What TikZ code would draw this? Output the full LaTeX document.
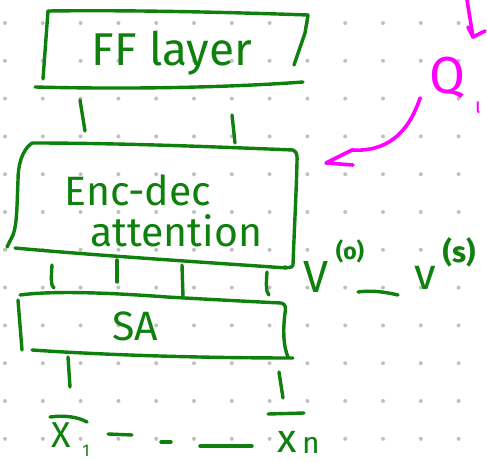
\documentclass[tikz,border=0pt]{standalone}
\usepackage{fontspec}
\setmainfont{Fira Sans}
\definecolor{pen}{RGB}{14,128,14}
\definecolor{mag}{RGB}{255,0,255}
\definecolor{dotc}{RGB}{192,192,192}
\tikzset{
  stroke/.style={draw=pen, line width=3.4pt, line cap=round, line join=round},
  mstroke/.style={draw=mag, line width=3.6pt, line cap=round, line join=round},
  lbl/.style={text=pen, inner sep=0pt, anchor=base},
  mlbl/.style={text=mag, inner sep=0pt, anchor=base},
  sz/.style={font=\fontsize{#1}{#1}\selectfont},
  szb/.style={font=\fontsize{#1}{#1}\selectfont\bfseries},
}
\begin{document}
\begin{tikzpicture}[x=1pt,y=-1pt]
\useasboundingbox (0,0) rectangle (487,462);
\fill[white] (0,0) rectangle (487,462);
% dot grid
\foreach \i in {0,...,12}
  \foreach \j in {0,...,11}
    \fill[dotc] (5+37.8*\i, 23+37.8*\j) circle[radius=2pt];

% ---------- FF layer box ----------
\node[lbl, sz=46] (ff) at (172,66) {FF layer};
\draw[stroke] (48,11) .. controls (130,10) and (220,12) .. (308,15);
\draw[stroke] (48,11) -- (43,79);
\draw[stroke] (308,15) -- (305,33) -- (294,65);
\draw[stroke] (35,87) .. controls (150,90) and (250,86) .. (303,82);

% ---------- Enc-dec attention box ----------
\node[lbl, sz=41] (enc) at (138,206) {Enc-dec};
\node[lbl, sz=41] (att) at (176,247) {attention};
\draw[stroke] (32,143) .. controls (120,143) and (220,147) .. (293,150)
  .. controls (298,152) and (297,158) .. (297,162)
  .. controls (296,200) and (294,235) .. (293,265)
  .. controls (292,268) and (288,268) .. (284,267);
\draw[stroke] (32,143) .. controls (22,150) and (18,165) .. (18,180)
  .. controls (17,205) and (17,225) .. (13,235) -- (7,247);
\draw[stroke] (15,248) .. controls (90,255) and (200,262) .. (287,268);

% ---------- SA box ----------
\node[lbl, sz=41] (sa) at (135,340) {SA};
\draw[stroke] (20,295) .. controls (50,291) and (100,292) .. (167,297)
  .. controls (220,300) and (260,302) .. (281,303)
  .. controls (286,304) and (286,308) .. (285,313)
  .. controls (283,330) and (283,345) .. (288,357);
\draw[stroke] (18,300) -- (22,350);
\draw[stroke] (32,350) .. controls (120,356) and (220,358) .. (293,358);

% ---------- connectors (ticks) ----------
\coordinate (t1a) at (80,100);  \coordinate (t1b) at (85,131);
\coordinate (t2a) at (232,115); \coordinate (t2b) at (235,143);
\draw[stroke] (t1a) -- (t1b);
\draw[stroke] (t2a) -- (t2b);

\coordinate (u1a) at (52,265);  \coordinate (u1b) at (54,288);
\coordinate (u2a) at (117,260); \coordinate (u2b) at (117,282);
\coordinate (u3a) at (182,265); \coordinate (u3b) at (183,297);
\coordinate (u4a) at (267,272); \coordinate (u4b) at (269,295);
\draw[stroke] (u1a) .. controls (51,280) and (51,286) .. (u1b);
\draw[stroke] (u2a) -- (u2b);
\draw[stroke] (u3a) -- (u3b);
\draw[stroke] (u4a) .. controls (266,285) and (266,292) .. (u4b);

\coordinate (w1a) at (68,357);  \coordinate (w1b) at (70,387);
\coordinate (w2a) at (279,372); \coordinate (w2b) at (283,398);
\draw[stroke] (w1a) -- (w1b);
\draw[stroke] (w2a) -- (w2b);

% ---------- inputs ----------
\node[lbl, sz=36] (x1) at (61,447) {X};
\node[lbl, sz=17] (x1s) at (86,456) {1};
\draw[stroke] (50,417) .. controls (65,415) and (78,417) .. (87,422);
\node[lbl, sz=40] (xn) at (287,452) {x};
\node[lbl, sz=30] (xns) at (311,453) {n};
\draw[stroke] (268,414) -- (304,413);
\draw[stroke] (108,434) -- (132,435);
\draw[stroke] (161,442) -- (171,442);
\draw[stroke] (200,446) -- (252,446);

% ---------- V^(o) ~ v^(s) ----------
\node[lbl, sz=45] (v0) at (316,292) {V};
\node[lbl, szb=23] (v0s) at (350,260) {(o)};
\draw[stroke] (358,292) .. controls (372,290) and (385,292) .. (398,295);
\node[lbl, sz=44] (vs) at (425,290) {v};
\node[lbl, szb=29] (vss) at (459,263) {(s)};

% ---------- magenta Q ----------
\node[mlbl, sz=52] (q) at (447,94) {Q};
\node[mlbl, sz=22] (qs) at (478,114) {ι};
\coordinate (qa) at (467,0);
\coordinate (qb) at (473,37);
\draw[mstroke] (qa) -- (qb) -- (485,31);
\draw[mstroke] (468,27) -- (qb);
\coordinate (ca) at (420,98);
\coordinate (cb) at (326,163);
\draw[mstroke] (ca) .. controls (408,135) and (385,152) .. (352,150) -- (cb) -- (353,165);
\end{tikzpicture}
\end{document}
